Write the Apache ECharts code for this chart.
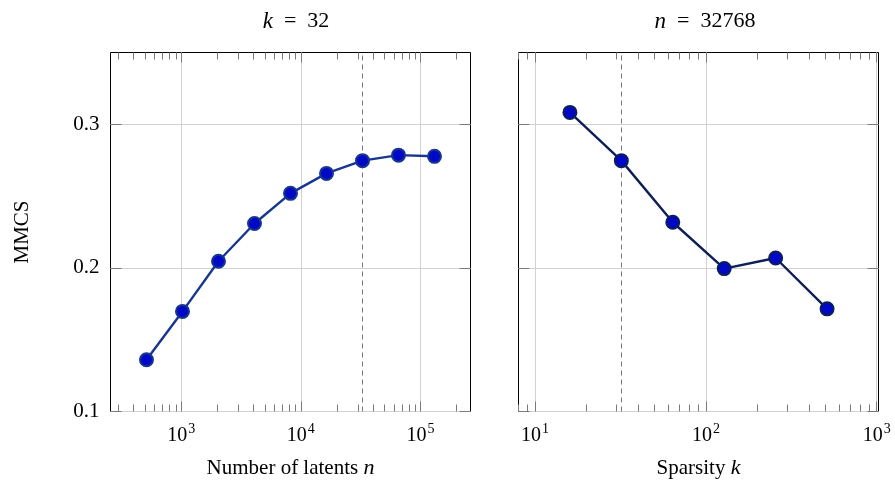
<!DOCTYPE html>
<html>
<head>
<meta charset="utf-8">
<script src="https://cdn.jsdelivr.net/npm/echarts@6/dist/echarts.min.js"></script>
<style>
  html, body { margin: 0; padding: 0; background: #fff; }
  #chart { width: 895px; height: 485px; }
</style>
</head>
<body>
<div id="chart"></div>
<script>
// Left panel: MMCS vs. number of latents n (k fixed at 32)
const latentsN = [512, 1024, 2048, 4096, 8192, 16384, 32768, 65536, 131072];
const mmcsByN = [0.136, 0.1697, 0.2046, 0.2309, 0.2519, 0.2658, 0.2747, 0.2785, 0.2777];

// Right panel: MMCS vs. sparsity k (n fixed at 32768)
const sparsityK = [16, 32, 64, 128, 256, 512];
const mmcsByK = [0.3083, 0.2747, 0.2318, 0.1995, 0.2069, 0.1715];

// Reference settings marked by the dashed lines
const refN = 32768;
const refK = 32;

// Axis ranges and tick positions
const nRange = [256, 262144];
const kRange = [8, 1024];
const yRange = [0.1, 0.35];
const yTicks = [0.1, 0.2, 0.3];
const nMajor = [1000, 10000, 100000];
const nMinor = [300, 400, 500, 600, 700, 800, 900,
                2000, 3000, 4000, 5000, 6000, 7000, 8000, 9000,
                20000, 30000, 40000, 50000, 60000, 70000, 80000, 90000,
                200000];
const kMajor = [10, 100, 1000];
const kMinor = [8, 9, 20, 30, 40, 50, 60, 70, 80, 90,
                200, 300, 400, 500, 600, 700, 800, 900];

const serif = '"Liberation Serif", "DejaVu Serif", serif';
const tickGray = '#7a7a7a';
const gridGray = '#d2d2d2';

function powLabel(v) {
  const e = Math.round(Math.log10(v));
  return '{b|10}{s|' + e + '}';
}
const powRich = {
  b: { fontFamily: serif, fontSize: 20, color: '#000', verticalAlign: 'bottom', lineHeight: 22 },
  s: { fontFamily: serif, fontSize: 14, color: '#000', verticalAlign: 'bottom', lineHeight: 22, padding: [0, 0, 9, 1] }
};

function xAxesFor(gridIndex, range, major, minor, name) {
  const base = { type: 'log', logBase: 10, gridIndex: gridIndex, min: range[0], max: range[1] };
  return [
    // main axis: labels, major ticks and grid lines
    Object.assign({}, base, {
      position: 'bottom',
      name: name,
      nameLocation: 'middle',
      nameGap: 46,
      nameTextStyle: { fontFamily: serif, fontSize: 21, color: '#000', rich: {
        t: { fontFamily: serif, fontSize: 21, color: '#000' },
        i: { fontFamily: serif, fontSize: 22, color: '#000', fontStyle: 'italic' }
      } },
      axisLine: { show: false },
      axisTick: { show: true, inside: true, length: 10, customValues: major, lineStyle: { color: tickGray, width: 1 } },
      axisLabel: { show: true, customValues: major, margin: 12, formatter: powLabel, rich: powRich },
      splitLine: { show: true, lineStyle: { color: gridGray, width: 1 } },
      minorTick: { show: false }
    }),
    // bottom minor ticks
    Object.assign({}, base, {
      position: 'bottom',
      axisLine: { show: false },
      axisTick: { show: true, inside: true, length: 7, customValues: minor, lineStyle: { color: tickGray, width: 1 } },
      axisLabel: { show: false },
      splitLine: { show: false }
    }),
    // top major ticks
    Object.assign({}, base, {
      position: 'top',
      axisLine: { show: false },
      axisTick: { show: true, inside: true, length: 10, customValues: major, lineStyle: { color: tickGray, width: 1 } },
      axisLabel: { show: false },
      splitLine: { show: false }
    }),
    // top minor ticks
    Object.assign({}, base, {
      position: 'top',
      axisLine: { show: false },
      axisTick: { show: true, inside: true, length: 7, customValues: minor, lineStyle: { color: tickGray, width: 1 } },
      axisLabel: { show: false },
      splitLine: { show: false }
    })
  ];
}

function yAxesFor(gridIndex, withLabels) {
  const base = { type: 'value', gridIndex: gridIndex, min: yRange[0], max: yRange[1] };
  return [
    Object.assign({}, base, {
      position: 'left',
      name: withLabels ? 'MMCS' : '',
      nameLocation: 'middle',
      nameGap: 78,
      nameRotate: 90,
      nameTextStyle: { fontFamily: serif, fontSize: 21, color: '#000' },
      axisLine: { show: false },
      axisTick: { show: true, inside: true, length: 11, customValues: yTicks, lineStyle: { color: tickGray } },
      axisLabel: { show: withLabels, customValues: yTicks, margin: 11, fontFamily: serif, fontSize: 21, color: '#000',
                   formatter: v => v.toFixed(1) },
      splitLine: { show: true, lineStyle: { color: gridGray, width: 1 } }
    }),
    Object.assign({}, base, {
      position: 'right',
      axisLine: { show: false },
      axisTick: { show: true, inside: true, length: 11, customValues: yTicks, lineStyle: { color: tickGray } },
      axisLabel: { show: false },
      splitLine: { show: false }
    })
  ];
}

function refLine(value) {
  return {
    silent: true,
    symbol: 'none',
    label: { show: false },
    lineStyle: { color: '#777', type: [5, 4], width: 1 },
    data: [{ xAxis: value }]
  };
}

function lineSeries(xIndex, yIndex, xs, ys, lineColor, refValue) {
  return {
    type: 'line',
    xAxisIndex: xIndex,
    yAxisIndex: yIndex,
    data: xs.map((x, i) => [x, ys[i]]),
    symbol: 'circle',
    symbolSize: 13,
    lineStyle: { color: lineColor, width: 2.4 },
    itemStyle: { color: '#0008c8', borderColor: lineColor, borderWidth: 2 },
    markLine: refLine(refValue),
    z: 5
  };
}

const titleRich = {
  i: { fontFamily: serif, fontSize: 23, fontStyle: 'italic', fontWeight: 'normal', color: '#000' },
  t: { fontFamily: serif, fontSize: 22, fontWeight: 'normal', color: '#000' }
};

const chart = echarts.init(document.getElementById('chart'), null, { renderer: 'canvas' });

const xAxes = xAxesFor(0, nRange, nMajor, nMinor, '{t|Number of latents }{i|n}')
  .concat(xAxesFor(1, kRange, kMajor, kMinor, '{t|Sparsity }{i|k}'));
const yAxes = yAxesFor(0, true).concat(yAxesFor(1, false));

chart.setOption({
  animation: false,
  backgroundColor: '#fff',
  title: [
    {
      text: '{i|k}{t|  =  32}',
      left: 291, top: 5, textAlign: 'center',
      textStyle: { fontWeight: 'normal', rich: titleRich }
    },
    {
      text: '{i|n}{t|  =  32768}',
      left: 700, top: 5, textAlign: 'center',
      textStyle: { fontWeight: 'normal', rich: titleRich }
    }
  ],
  grid: [
    { left: 110.5, top: 52.5, width: 360, height: 359, show: true, borderColor: '#000', borderWidth: 1, backgroundColor: 'transparent' },
    { left: 518.5, top: 52.5, width: 360, height: 359, show: true, borderColor: '#000', borderWidth: 1, backgroundColor: 'transparent' }
  ],
  xAxis: xAxes,
  yAxis: yAxes,
  series: [
    lineSeries(0, 0, latentsN, mmcsByN, '#17378e', refN),
    lineSeries(4, 2, sparsityK, mmcsByK, '#0d1f58', refK)
  ]
});
</script>
</body>
</html>
